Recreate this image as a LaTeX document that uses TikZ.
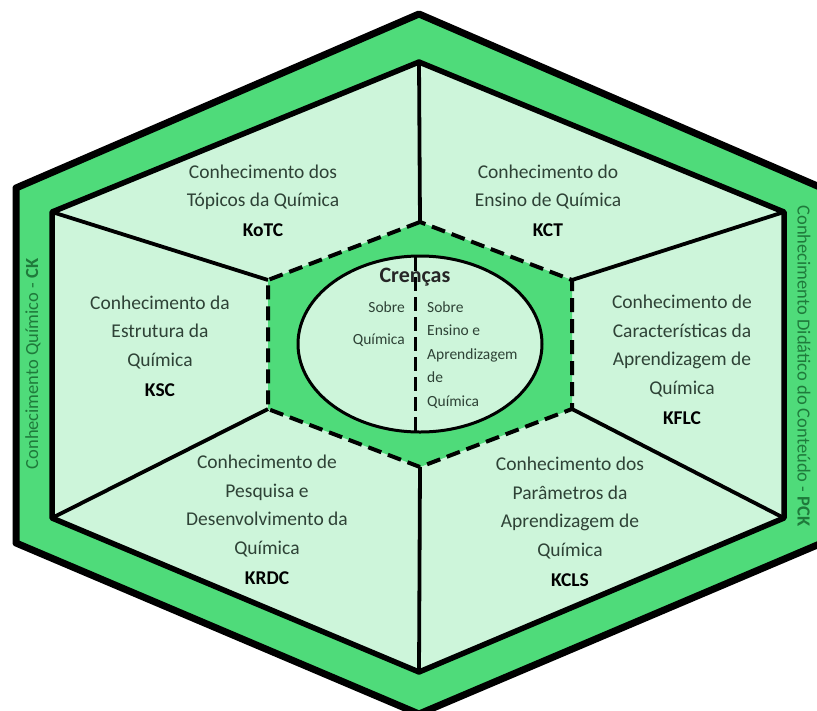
\documentclass[tikz,border=0pt]{standalone}
\usepackage{fontspec}
\setmainfont{Carlito}
\definecolor{bandgreen}{HTML}{4FDB7A}
\definecolor{palegreen}{HTML}{CDF5DA}
\definecolor{txtgray}{HTML}{2E4236}
\definecolor{vtext}{HTML}{1F7A3B}
\begin{document}
\begin{tikzpicture}[x=1pt,y=-1pt,
  sectext/.style={font=\fontsize{19.5}{28.5}\selectfont, text=txtgray, align=center, inner sep=0pt},
  smalltext/.style={font=\fontsize{15.5}{23.5}\selectfont, text=txtgray, inner sep=0pt},
  sidetext/.style={font=\fontsize{18.5}{22}\selectfont, text=vtext, inner sep=0pt},
  divider/.style={line width=3.8pt, black},
  lbl/.style={text=black}
]
\useasboundingbox (0,0) rectangle (817,710);
% vertices
\coordinate (o1) at (419,14);
\coordinate (o2) at (16,188);
\coordinate (o3) at (16,543);
\coordinate (o4) at (419,714);
\coordinate (o5) at (822,543);
\coordinate (o6) at (822,188);
\coordinate (i1) at (419,62);
\coordinate (i2) at (52,212);
\coordinate (i3) at (52,518);
\coordinate (i4) at (419,672);
\coordinate (i5) at (784,518);
\coordinate (i6) at (784,212);
\coordinate (c1) at (420,222);
\coordinate (c2) at (268,280);
\coordinate (c3) at (268,409);
\coordinate (c4) at (420,467);
\coordinate (c5) at (572,409);
\coordinate (c6) at (572,280);
% outer band
\fill[bandgreen, draw=black, line width=7pt, line join=round]
  (o1) -- (o2) -- (o3) -- (o4) -- (o5) -- (o6) -- cycle;
% inner region
\fill[palegreen, draw=black, line width=5.5pt, line join=round]
  (i1) -- (i2) -- (i3) -- (i4) -- (i5) -- (i6) -- cycle;
% dividers
\draw[divider] (c1) -- (i1);
\draw[divider] (c2) -- (i2);
\draw[divider] (c3) -- (i3);
\draw[divider] (c4) -- (i4);
\draw[divider] (c5) -- (i5);
\draw[divider] (c6) -- (i6);
% central hexagon
\fill[bandgreen] (c1) -- (c2) -- (c3) -- (c4) -- (c5) -- (c6) -- cycle;
\draw[black, line width=4pt, dash pattern=on 14pt off 7pt]
  (c1) -- (c2) -- (c3) -- (c4) -- (c5) -- (c6) -- cycle;
% ellipse
\fill[palegreen, draw=black, line width=3pt] (420,344) ellipse [x radius=122, y radius=88];
\coordinate (vtop) at (415,257);
\coordinate (vbot) at (415,431);
\draw[black, line width=3pt, dash pattern=on 14pt off 6pt] (vtop) -- (vbot);
% centre texts
\node[font=\bfseries\fontsize{22}{24}\selectfont, text=black!85, inner sep=0pt] (cren) at (415,277) {Crenças};
\node[smalltext, anchor=east, align=right, font=\fontsize{15.5}{32}\selectfont] (sq) at (405,324) {Sobre\\Química};
\node[smalltext, anchor=west, align=left] (se) at (427,355) {Sobre\\Ensino e\\Aprendizagem\\de\\Química};
% section texts
\node[sectext] (kotc) at (263,201) {Conhecimento dos\\Tópicos da Química\\[1.5pt]\textbf{\textcolor{black}{KoTC}}};
\node[sectext] (kct) at (548,201) {Conhecimento do\\Ensino de Química\\[1.5pt]\textbf{\textcolor{black}{KCT}}};
\node[sectext] (ksc) at (160,346) {Conhecimento da\\Estrutura da\\Química\\[1.5pt]\textbf{\textcolor{black}{KSC}}};
\node[sectext] (kflc) at (682,360) {Conhecimento de\\Características da\\Aprendizagem de\\Química\\[1.5pt]\textbf{\textcolor{black}{KFLC}}};
\node[sectext] (krdc) at (267,520) {Conhecimento de\\Pesquisa e\\Desenvolvimento da\\Química\\[1.5pt]\textbf{\textcolor{black}{KRDC}}};
\node[sectext] (kcls) at (570,522) {Conhecimento dos\\Parâmetros da\\Aprendizagem de\\Química\\[1.5pt]\textbf{\textcolor{black}{KCLS}}};
% side texts
\node[sidetext, rotate=90] (ck) at (33,364) {Conhecimento Químico - \textbf{CK}};
\node[sidetext, rotate=-90] (pck) at (804,366) {Conhecimento Didático do Conteúdo - \textbf{PCK}};
\end{tikzpicture}
\end{document}
